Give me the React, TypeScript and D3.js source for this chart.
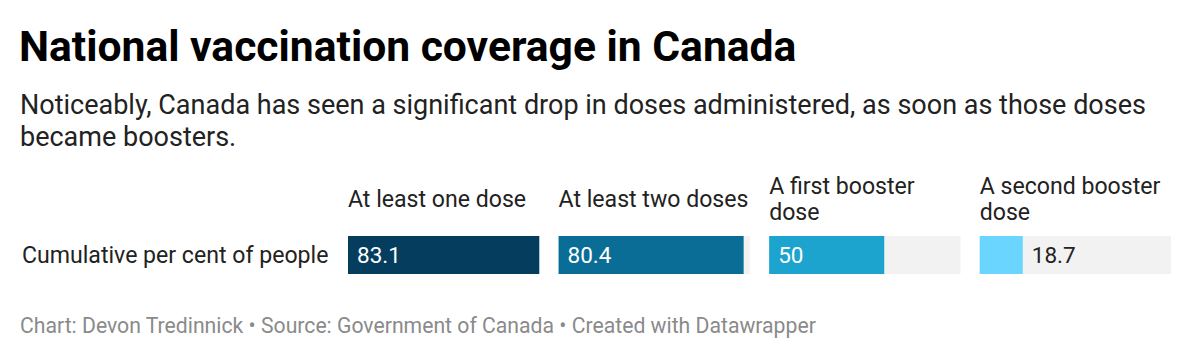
import React from "react";
import * as d3 from "d3";

const title = "National vaccination coverage in Canada";
const subtitleLines = [
  "Noticeably, Canada has seen a significant drop in doses administered, as soon as those doses",
  "became boosters.",
];
const rowLabel = "Cumulative per cent of people";
const categories = ["At least one dose", "At least two doses", "A first booster\ndose", "A second booster\ndose"];
const values = [83.1, 80.4, 50, 18.7];
const colors = ["#053d5f", "#0a6d95", "#1ca3ce", "#6ad5fe"];
const footer = "Chart: Devon Tredinnick • Source: Government of Canada • Created with Datawrapper";

const FONT = "Roboto, 'Noto Sans', sans-serif";

export default function App() {
  const W = 1200;
  const H = 358;
  const band = d3
    .scaleBand<number>()
    .domain(d3.range(categories.length))
    .range([348, 1171])
    .paddingInner(0.0916)
    .paddingOuter(0);
  const x = d3.scaleLinear().domain([0, d3.max(values) as number]).range([0, band.bandwidth()]);
  const barY = 236;
  const barH = 38;
  const labelPad = 9;

  return (
    <div style={{ position: "absolute", left: 0, top: 0 }}>
      <svg width={W} height={H} style={{ display: "block", background: "#fff" }} fontFamily={FONT}>
        <text x={19} y={61} fontSize={42.6} fontWeight={700} fill="#000">
          {title}
        </text>
        {subtitleLines.map((l, i) => (
          <text key={i} x={20} y={114 + i * 32} fontSize={27} fill="#222">
            {l}
          </text>
        ))}
        <text x={22} y={barY + barH / 2} dy="0.35em" fontSize={23.1} fill="#222">
          {rowLabel}
        </text>
        {categories.map((c, i) => {
          const x0 = band(i) as number;
          const lines = c.split("\n");
          const lh = 26;
          const cy = 199;
          const w = x(values[i]);
          const txt = String(values[i]);
          const inside = w > 60;
          return (
            <g key={i}>
              {lines.map((l, j) => (
                <text
                  key={j}
                  x={x0}
                  y={cy + (j - (lines.length - 1) / 2) * lh}
                  dy="0.35em"
                  fontSize={23.1}
                  fill="#222"
                >
                  {l}
                </text>
              ))}
              <rect x={x0} y={barY} width={band.bandwidth()} height={barH} fill="#f2f2f2" />
              <rect x={x0} y={barY} width={w} height={barH} fill={colors[i]} />
              <text
                x={inside ? x0 + labelPad : x0 + w + labelPad}
                y={barY + barH / 2}
                dy="0.35em"
                fontSize={22.5}
                fill={inside ? "#fff" : "#222"}
              >
                {txt}
              </text>
            </g>
          );
        })}
        <text x={20} y={333} fontSize={21.2} fill="#8a8a8a">
          {footer}
        </text>
      </svg>
    </div>
  );
}
